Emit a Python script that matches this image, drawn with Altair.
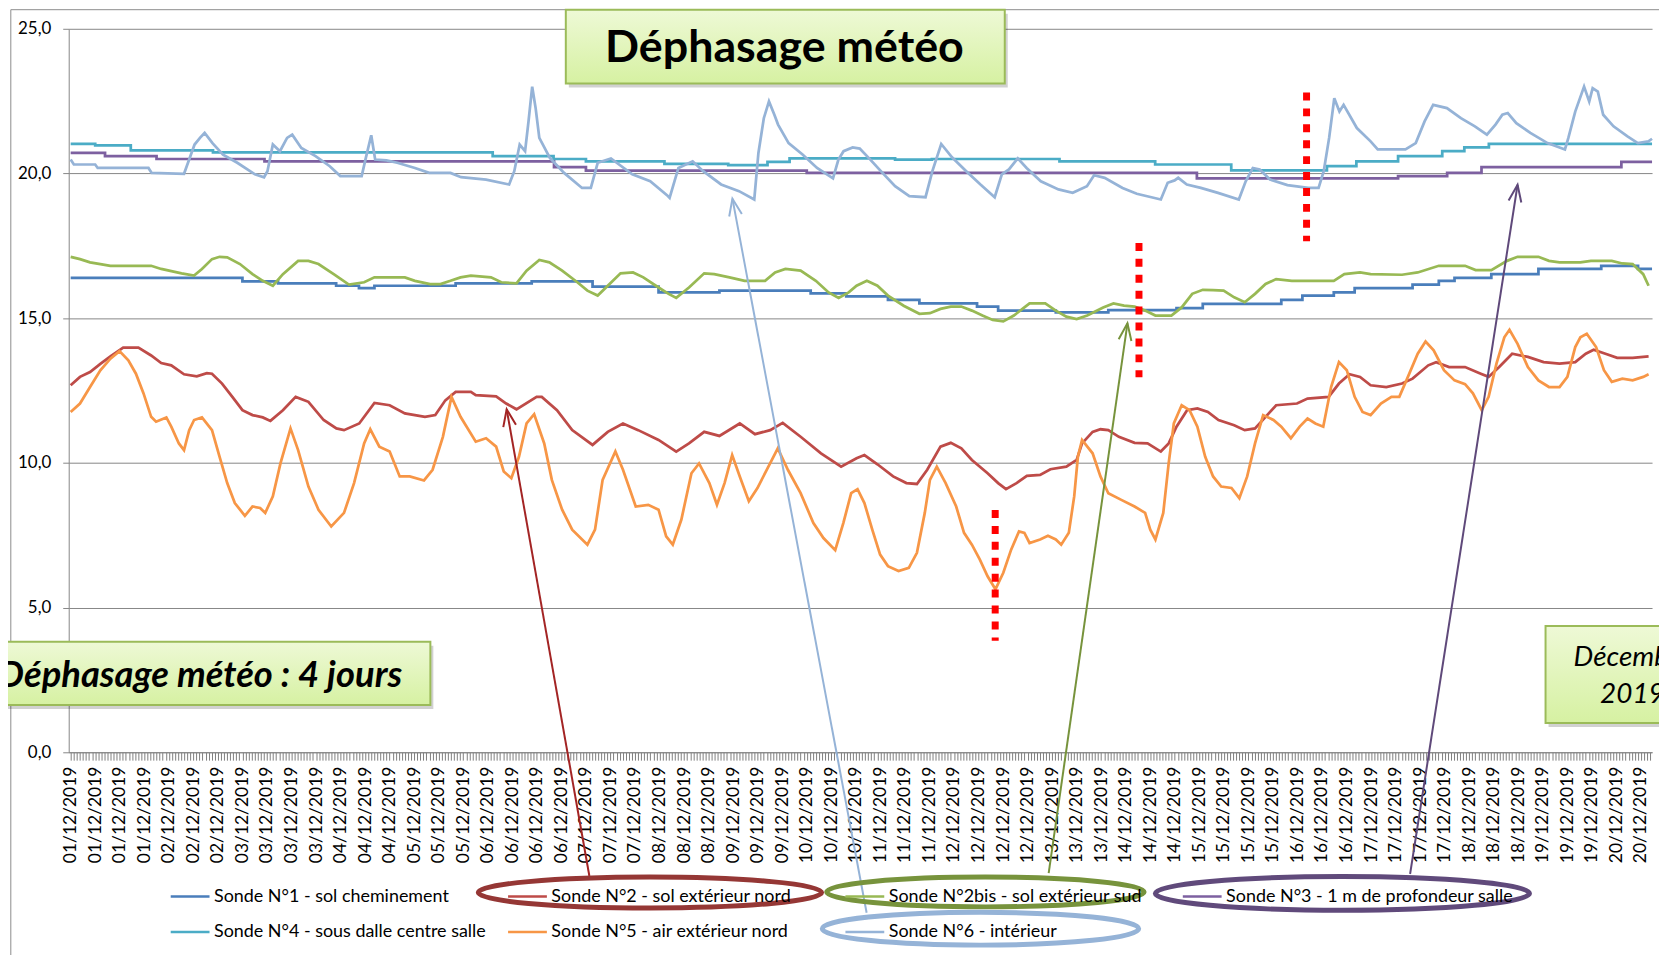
import json
import altair as alt
import pandas as pd

# ---------------- series names / colours ----------------
SERIES = [
    "Sonde N°1 - sol cheminement",
    "Sonde N°2 - sol extérieur nord",
    "Sonde N°2bis - sol extérieur sud",
    "Sonde N°3 - 1 m de profondeur salle",
    "Sonde N°4 - sous dalle centre salle",
    "Sonde N°5 - air extérieur nord",
    "Sonde N°6 - intérieur",
]
COLORS = ["#4A7EBB", "#BE4B48", "#98B954", "#7D60A0", "#4BACC6", "#F79646", "#95B3D7"]

# ---------------- category tick labels (one every category index) ----------------
DATE_LABELS = [
    "01/12/2019", "01/12/2019", "01/12/2019", "01/12/2019",
    "02/12/2019", "02/12/2019", "02/12/2019",
    "03/12/2019", "03/12/2019", "03/12/2019", "03/12/2019",
    "04/12/2019", "04/12/2019", "04/12/2019",
    "05/12/2019", "05/12/2019", "05/12/2019",
    "06/12/2019", "06/12/2019", "06/12/2019", "06/12/2019",
    "07/12/2019", "07/12/2019", "07/12/2019",
    "08/12/2019", "08/12/2019", "08/12/2019",
    "09/12/2019", "09/12/2019", "09/12/2019",
    "10/12/2019", "10/12/2019", "10/12/2019",
    "11/12/2019", "11/12/2019", "11/12/2019",
    "12/12/2019", "12/12/2019", "12/12/2019", "12/12/2019",
    "13/12/2019", "13/12/2019", "13/12/2019",
    "14/12/2019", "14/12/2019", "14/12/2019",
    "15/12/2019", "15/12/2019", "15/12/2019", "15/12/2019",
    "16/12/2019", "16/12/2019", "16/12/2019",
    "17/12/2019", "17/12/2019", "17/12/2019", "17/12/2019",
    "18/12/2019", "18/12/2019", "18/12/2019",
    "19/12/2019", "19/12/2019", "19/12/2019",
    "20/12/2019", "20/12/2019",
]

# ---------------- series values (x = position in label units, y = °C) ----------------
N1_X = [0, 7.0, 8.45, 10.82, 11.75, 12.38, 15.69, 18.79, 21.27, 23.96, 26.44, 30.16, 31.61, 33.31,
        34.59, 36.94, 37.8, 40.15, 42.29, 45.07, 46.14, 49.34, 50.2, 51.48, 52.33, 54.69, 55.76,
        56.4, 57.9, 59.82, 62.38, 63.88, 64.45]
N1_Y = [16.39, 16.27, 16.2, 16.12, 16.04, 16.12, 16.2, 16.27, 16.09, 15.89, 15.95, 15.86, 15.75,
        15.63, 15.51, 15.4, 15.26, 15.2, 15.28, 15.35, 15.49, 15.63, 15.78, 15.89, 16.04, 16.16,
        16.29, 16.39, 16.52, 16.7, 16.81, 16.7, 16.7]

N3_X = [0, 1.4, 3.5, 7.9, 19.7, 21.0, 30.0, 45.9, 54.1, 56.1, 57.5, 63.2, 64.45]
N3_Y = [20.71, 20.6, 20.5, 20.42, 20.22, 20.1, 20.02, 19.83, 19.91, 20.02, 20.22, 20.4, 20.4]

N4_X = [0, 1.0, 2.45, 5.8, 17.2, 19.68, 21.0, 24.2, 26.8, 28.4, 29.3, 33.6, 35.1, 40.3, 44.2,
        47.3, 51.2, 52.4, 54.1, 55.9, 56.8, 57.8, 64.45]
N4_Y = [21.02, 20.97, 20.8, 20.73, 20.6, 20.5, 20.42, 20.33, 20.29, 20.4, 20.52, 20.48, 20.5,
        20.42, 20.31, 20.11, 20.25, 20.42, 20.6, 20.77, 20.9, 21.02, 21.02]

N2_X = [0, 0.38, 0.79, 1.21, 1.62, 2.14, 2.76, 3.28, 3.69, 4.1, 4.62, 5.14, 5.55, 5.76, 6.17, 6.59,
        7.0, 7.41, 7.83, 8.14, 8.65, 9.17, 9.69, 10.31, 10.83, 11.14, 11.76, 12.38, 13.0, 13.62,
        14.44, 14.86, 15.27, 15.69, 16.31, 16.51, 17.34, 17.75, 18.17, 18.99, 19.2, 19.82, 20.44,
        21.27, 21.89, 22.51, 23.13, 23.96, 24.68, 25.2, 25.82, 26.44, 27.27, 27.89, 28.51, 29.02,
        29.75, 30.58, 31.4, 32.03, 32.35, 32.88, 33.52, 34.06, 34.49, 34.91, 35.45, 35.87, 36.3,
        36.73, 37.37, 37.8, 38.12, 38.55, 38.97, 39.51, 39.93, 40.58, 41.0, 41.22, 41.65, 41.97,
        42.29, 42.72, 43.36, 43.89, 44.43, 44.75, 45.07, 45.5, 45.92, 46.35, 46.78, 47.42, 47.85,
        48.27, 48.7, 49.13, 49.98, 50.41, 51.27, 51.69, 52.12, 52.55, 52.98, 53.62, 54.26, 54.69,
        55.33, 55.65, 56.18, 56.83, 57.47, 57.79, 58.22, 58.75, 59.39, 60.03, 60.68, 61.32, 61.75,
        62.07, 62.61, 63.03, 63.66, 64.31]
N2_Y = [12.68, 12.97, 13.14, 13.42, 13.68, 13.98, 13.98, 13.71, 13.45, 13.37, 13.06, 12.99, 13.1,
        13.08, 12.74, 12.28, 11.82, 11.65, 11.57, 11.45, 11.82, 12.28, 12.11, 11.48, 11.19, 11.13,
        11.36, 12.07, 11.99, 11.71, 11.59, 11.65, 12.16, 12.45, 12.45, 12.34, 12.3, 12.05, 11.85,
        12.28, 12.28, 11.82, 11.13, 10.62, 11.07, 11.36, 11.13, 10.79, 10.39, 10.67, 11.07, 10.93,
        11.36, 10.99, 11.13, 11.38, 10.9, 10.33, 9.87, 10.16, 10.27, 9.95, 9.53, 9.3, 9.27, 9.76,
        10.56, 10.69, 10.5, 10.1, 9.64, 9.3, 9.09, 9.3, 9.55, 9.58, 9.78, 9.87, 10.1, 10.67, 11.07,
        11.16, 11.13, 10.9, 10.69, 10.67, 10.39, 10.67, 11.25, 11.82, 11.88, 11.76, 11.48, 11.3,
        11.13, 11.19, 11.59, 11.99, 12.05, 12.22, 12.28, 12.74, 13.06, 12.97, 12.68, 12.62, 12.74,
        12.91, 13.37, 13.48, 13.31, 13.31, 13.08, 12.97, 13.31, 13.77, 13.66, 13.48, 13.43, 13.48,
        13.77, 13.91, 13.75, 13.63, 13.63, 13.68]

N2B_X = [0, 0.38, 0.79, 1.21, 1.62, 3.28, 3.69, 4.52, 5.03, 5.35, 5.76, 6.07, 6.38, 6.9, 7.41, 7.83,
         8.24, 8.65, 9.27, 9.69, 10.1, 10.72, 11.34, 11.96, 12.38, 13.62, 14.03, 14.65, 15.07,
         15.48, 15.89, 16.31, 17.13, 17.55, 18.17, 18.58, 19.1, 19.51, 20.03, 20.65, 21.06, 21.48,
         21.89, 22.41, 22.92, 23.34, 23.96, 24.37, 24.68, 25.2, 25.82, 26.23, 26.85, 27.47, 28.3,
         28.71, 29.13, 29.75, 30.37, 30.89, 31.3, 31.71, 32.03, 32.45, 32.88, 33.31, 33.95, 34.59,
         35.02, 35.45, 35.87, 36.3, 36.73, 37.16, 37.58, 38.01, 38.44, 38.87, 39.08, 39.72, 40.15,
         40.58, 41.0, 41.43, 42.08, 42.5, 42.93, 43.36, 43.79, 44.21, 44.86, 45.28, 45.71, 46.14,
         46.56, 46.99, 47.42, 47.85, 48.27, 48.7, 49.13, 49.77, 51.48, 51.91, 52.55, 52.98, 54.26,
         54.9, 55.76, 56.83, 57.26, 57.9, 58.54, 58.97, 59.82, 60.25, 60.68, 61.53, 61.96, 62.81,
         63.24, 63.66, 64.09, 64.31]
N2B_Y = [17.12, 17.04, 16.93, 16.87, 16.81, 16.81, 16.7, 16.55, 16.47, 16.7, 17.04, 17.12, 17.1,
         16.87, 16.52, 16.29, 16.12, 16.52, 16.98, 16.98, 16.87, 16.52, 16.16, 16.24, 16.41, 16.41,
         16.29, 16.18, 16.18, 16.29, 16.41, 16.47, 16.41, 16.24, 16.2, 16.64, 17.01, 16.93, 16.64,
         16.24, 15.95, 15.78, 16.12, 16.55, 16.58, 16.41, 16.06, 15.84, 15.7, 16.06, 16.55, 16.52,
         16.41, 16.29, 16.29, 16.58, 16.7, 16.64, 16.29, 15.89, 15.7, 15.89, 16.12, 16.29, 16.12,
         15.78, 15.43, 15.15, 15.17, 15.32, 15.4, 15.4, 15.26, 15.09, 14.94, 14.89, 15.09, 15.37,
         15.51, 15.51, 15.26, 15.05, 14.97, 15.09, 15.37, 15.51, 15.43, 15.4, 15.26, 15.09, 15.09,
         15.37, 15.84, 15.98, 15.97, 15.95, 15.72, 15.55, 15.84, 16.18, 16.35, 16.29, 16.29, 16.52,
         16.58, 16.52, 16.5, 16.58, 16.81, 16.81, 16.66, 16.66, 16.98, 17.12, 17.12, 16.98, 16.93,
         16.93, 16.98, 16.98, 16.89, 16.87, 16.52, 16.12]

N5_X = [0, 0.38, 0.79, 1.21, 1.62, 1.99, 2.35, 2.66, 2.97, 3.28, 3.48, 3.9, 4.1, 4.41, 4.62, 4.83,
        5.03, 5.35, 5.76, 6.07, 6.38, 6.69, 7.1, 7.41, 7.72, 7.93, 8.24, 8.55, 8.96, 9.27, 9.69,
        10.1, 10.62, 11.14, 11.55, 11.96, 12.21, 12.58, 13.0, 13.41, 13.82, 14.4, 14.75, 15.17,
        15.52, 15.89, 16.51, 16.93, 17.34, 17.65, 17.96, 18.27, 18.58, 18.89, 19.3, 19.61, 20.03,
        20.44, 21.06, 21.37, 21.68, 22.2, 22.51, 23.03, 23.54, 23.96, 24.27, 24.54, 24.89, 25.3,
        25.61, 26.03, 26.34, 26.65, 26.96, 27.27, 27.64, 27.99, 28.4, 28.82, 29.23, 29.75, 30.27,
        30.68, 31.16, 31.49, 31.81, 32.07, 32.35, 32.67, 32.99, 33.31, 33.74, 34.16, 34.49, 34.81,
        35.02, 35.3, 35.66, 36.09, 36.41, 36.73, 37.05, 37.37, 37.69, 38.01, 38.33, 38.65, 38.87,
        39.08, 39.51, 39.83, 40.15, 40.37, 40.68, 40.9, 41.05, 41.22, 41.65, 41.97, 42.29, 42.82,
        43.36, 43.79, 44.0, 44.21, 44.53, 44.75, 44.96, 45.28, 45.6, 45.92, 46.24, 46.56, 46.89,
        47.31, 47.63, 47.95, 48.27, 48.6, 49.02, 49.34, 49.73, 50.09, 50.41, 50.73, 51.05, 51.37,
        51.69, 52.01, 52.33, 52.65, 52.98, 53.4, 53.83, 54.15, 54.47, 54.9, 55.22, 55.55, 55.97,
        56.4, 56.83, 57.15, 57.51, 57.79, 58.11, 58.43, 58.64, 58.97, 59.39, 59.82, 60.25, 60.68,
        61.0, 61.32, 61.53, 61.79, 62.17, 62.49, 62.81, 63.24, 63.66, 64.09, 64.31]
N5_Y = [11.76, 12.05, 12.62, 13.2, 13.6, 13.86, 13.54, 13.08, 12.4, 11.59, 11.42, 11.57, 11.25,
        10.67, 10.44, 11.13, 11.48, 11.57, 11.13, 10.21, 9.3, 8.61, 8.17, 8.49, 8.44, 8.27, 8.84,
        9.98, 11.19, 10.44, 9.18, 8.38, 7.8, 8.27, 9.3, 10.67, 11.16, 10.56, 10.39, 9.53, 9.53,
        9.39, 9.76, 10.9, 12.28, 11.59, 10.73, 10.85, 10.56, 9.7, 9.47, 10.21, 11.36, 11.68, 10.67,
        9.41, 8.38, 7.69, 7.17, 7.69, 9.41, 10.39, 9.76, 8.49, 8.55, 8.38, 7.46, 7.17, 8.04, 9.64,
        9.98, 9.3, 8.55, 9.3, 10.27, 9.53, 8.67, 9.13, 9.81, 10.5, 9.76, 8.95, 7.92, 7.4, 6.98,
        7.92, 8.95, 9.09, 8.61, 7.69, 6.83, 6.43, 6.26, 6.37, 6.89, 8.27, 9.41, 9.87, 9.3, 8.49,
        7.58, 7.17, 6.66, 6.08, 5.63, 6.2, 7.0, 7.63, 7.58, 7.23, 7.35, 7.48, 7.35, 7.17, 7.58,
        8.84, 10.21, 10.79, 10.33, 9.53, 8.95, 8.72, 8.49, 8.27, 7.69, 7.35, 8.27, 9.98, 11.36,
        11.99, 11.82, 11.25, 10.21, 9.53, 9.18, 9.13, 8.78, 9.53, 10.67, 11.65, 11.48, 11.25,
        10.85, 11.25, 11.53, 11.36, 11.25, 12.62, 13.48, 13.2, 12.28, 11.76, 11.65, 12.05, 12.28,
        12.28, 12.91, 13.77, 14.19, 13.89, 13.2, 12.85, 12.72, 12.4, 11.82, 12.28, 13.43, 14.34,
        14.6, 14.11, 13.31, 12.85, 12.62, 12.62, 12.97, 14.0, 14.34, 14.46, 14.0, 13.2, 12.8,
        12.91, 12.85, 12.97, 13.06]

N6_X = [0.0, 0.13, 1.0, 1.1, 3.17, 3.3, 4.62, 5.05, 5.27, 5.46, 5.78, 6.21, 6.79, 7.51, 7.88, 8.02,
        8.24, 8.53, 8.82, 9.03, 9.4, 9.98, 10.56, 10.99, 11.86, 12.03, 12.25, 12.41, 12.87, 13.31,
        14.03, 14.61, 15.48, 15.91, 16.93, 17.87, 18.08, 18.3, 18.52, 18.66, 18.81, 18.95, 19.1,
        19.53, 20.11, 20.84, 21.2, 21.48, 22.02, 22.89, 23.62, 24.34, 24.41, 24.77, 25.35, 25.78,
        26.51, 27.24, 27.86, 28.03, 28.25, 28.46, 28.68, 28.83, 29.26, 29.84, 30.42, 31.07, 31.29,
        31.5, 31.87, 32.16, 32.59, 33.02, 33.6, 34.18, 34.84, 35.12, 35.48, 35.92, 36.5, 37.08,
        37.66, 37.95, 38.24, 38.6, 38.96, 39.54, 40.26, 40.84, 41.42, 41.71, 42.14, 42.87, 43.45,
        44.43, 44.71, 44.99, 45.14, 45.49, 46.06, 46.76, 47.61, 47.89, 48.18, 48.46, 48.88, 49.59,
        50.44, 50.86, 51.07, 51.29, 51.5, 51.71, 51.88, 52.42, 52.98, 53.27, 54.4, 54.82, 55.18,
        55.53, 56.09, 56.66, 57.23, 57.72, 58.07, 58.35, 58.57, 58.92, 59.49, 60.19, 60.9, 61.04,
        61.32, 61.68, 61.89, 62.03, 62.24, 62.46, 62.88, 63.45, 63.87, 64.3, 64.45]
N6_Y = [20.48, 20.31, 20.31, 20.19, 20.19, 20.02, 19.99, 21.0, 21.23, 21.4, 21.05, 20.65, 20.37,
        19.97, 19.87, 20.08, 21.0, 20.77, 21.23, 21.34, 20.88, 20.6, 20.25, 19.91, 19.91, 20.54,
        21.32, 20.48, 20.45, 20.37, 20.19, 20.02, 20.02, 19.87, 19.79, 19.62, 20.08, 21.0, 20.77,
        21.8, 23.0, 22.26, 21.23, 20.54, 20.02, 19.5, 19.5, 20.37, 20.52, 19.97, 19.73, 19.22,
        19.16, 20.19, 20.42, 20.08, 19.62, 19.39, 19.1, 20.71, 21.91, 22.49, 22.03, 21.69, 21.05,
        20.65, 20.19, 19.83, 20.48, 20.77, 20.9, 20.86, 20.48, 20.08, 19.56, 19.22, 19.18, 20.08,
        21.02, 20.56, 20.08, 19.62, 19.18, 19.97, 20.14, 20.52, 20.19, 19.73, 19.45, 19.33, 19.56,
        19.94, 19.85, 19.5, 19.3, 19.1, 19.68, 19.76, 19.85, 19.62, 19.5, 19.33, 19.1, 19.73,
        20.19, 20.14, 19.79, 19.6, 19.5, 19.5, 20.08, 21.23, 22.6, 22.14, 22.37, 21.57, 21.11,
        20.83, 20.83, 21.05, 21.8, 22.37, 22.26, 21.91, 21.63, 21.34, 21.69, 22.03, 22.09, 21.74,
        21.4, 21.05, 20.83, 21.23, 22.14, 23.0, 22.49, 22.95, 22.83, 22.03, 21.63, 21.28, 21.05,
        21.11, 21.2]

# ---------------- annotations (in chart units) ----------------
DOT_X = [37.68, 43.54, 50.37]
DOT_TOP = [8.37, 17.6, 22.8]
DOT_BOTTOM = [3.85, 12.96, 17.66]

ARROW_TIP_X = [17.77, 26.97, 43.07, 58.97]
ARROW_TIP_Y = [11.85, 19.13, 14.82, 19.61]
ARROW_TAIL_X = [21.14, 32.44, 39.86, 54.59]
ARROW_TAIL_Y = [-4.28, -5.55, -4.18, -4.21]
ARROW_COLORS = ["#A32424", "#95B3D7", "#77933C", "#5F497A"]
ARROW_ANGLES = [350, 349.4, 8.2, 8.9]

ELL_X = [23.61, 37.28, 51.83, 37.08]
ELL_Y = [-4.85, -4.83, -4.88, -6.1]
ELL_W = [345, 319, 376, 318]
ELL_H = [31, 30, 34, 33]
ELL_COLORS = ["#953735", "#77933C", "#604A7B", "#95B3D7"]

BOX_X1 = [20.18, -3.08, 60.11]
BOX_X2 = [38.07, 14.66, 67.18]
BOX_Y1 = [25.66, 3.82, 4.36]
BOX_Y2 = [23.11, 1.63, 1.01]

TITLE_TEXT = "Déphasage météo"
PHASE_TEXT = "Déphasage météo : 4 jours"
MONTH_LINES = ["Décembre", "2019"]


def long_frame(parts):
    rows = []
    for name, xs, ys in parts:
        for xv, yv in zip(xs, ys):
            rows.append({"series": name, "x": xv, "y": yv})
    return pd.DataFrame(rows)


step_df = long_frame([(SERIES[0], N1_X, N1_Y), (SERIES[3], N3_X, N3_Y), (SERIES[4], N4_X, N4_Y)])
line_df = long_frame([(SERIES[1], N2_X, N2_Y), (SERIES[2], N2B_X, N2B_Y),
                      (SERIES[5], N5_X, N5_Y), (SERIES[6], N6_X, N6_Y)])

XS = alt.Scale(domain=[-0.08, 64.45], nice=False, zero=False)
YS = alt.Scale(domain=[0, 25], nice=False, zero=False)
GRID = "#868686"
FONT = "Lato"

tick_values = [i / 8 for i in range(0, 516)]
label_expr = "datum.value % 1 === 0 ? " + json.dumps(DATE_LABELS) + "[datum.value] : ''"

X_AXIS = alt.Axis(values=tick_values, labelExpr=label_expr, labelAngle=270, labelOverlap=False,
                  labelFlush=False, labelFont=FONT, labelFontSize=17.5, labelColor="#000000",
                  labelPadding=6, tickSize=8, tickColor="#7F7F7F", tickWidth=1,
                  domainColor=GRID, grid=False, title=None)
Y_AXIS = alt.Axis(values=[0, 5, 10, 15, 20, 25],
                  labelExpr="replace(format(datum.value, '.1f'), '.', ',')",
                  labelFont=FONT, labelFontSize=17, labelColor="#000000", labelPadding=12,
                  tickSize=6, tickColor=GRID, domainColor=GRID, grid=True, gridColor=GRID,
                  title=None)


def X(field):
    return alt.X(field, type="quantitative", scale=XS, axis=X_AXIS)


def Y(field):
    return alt.Y(field, type="quantitative", scale=YS, axis=Y_AXIS)


legend = alt.Legend(orient="none", legendX=101, legendY=851, columns=4, direction="horizontal",
                    symbolType="stroke", symbolSize=1521, symbolStrokeWidth=2.5,
                    labelFont=FONT, labelFontSize=18, labelColor="#000000", labelLimit=600,
                    labelOffset=3, gridAlign="all", columnPadding=1, rowPadding=5.5, title=None)

color_scale = alt.Scale(domain=SERIES, range=COLORS)

# frame of the chart area
frame_df = pd.DataFrame({"x": [-2.44], "x2": [70.0], "y": [25.66], "y2": [-12.0]})
frame = alt.Chart(frame_df).mark_rect(fillOpacity=0, stroke="#8C8C8C", strokeWidth=1).encode(
    x=X("x:Q"), x2="x2:Q", y=Y("y:Q"), y2="y2:Q")

steps = alt.Chart(step_df).mark_line(interpolate="step-after", strokeWidth=2.75).encode(
    x=X("x:Q"), y=Y("y:Q"),
    color=alt.Color("series:N", scale=color_scale, legend=legend))

lines = alt.Chart(line_df).mark_line(strokeWidth=2.75).encode(
    x=X("x:Q"), y=Y("y:Q"),
    color=alt.Color("series:N", scale=color_scale, legend=legend))

dots_df = pd.DataFrame({"x": DOT_X, "y": DOT_TOP, "y2": DOT_BOTTOM})
dots = alt.Chart(dots_df).mark_rule(color="#FF0000", strokeWidth=7, strokeDash=[8, 8]).encode(
    x=X("x:Q"), y=Y("y:Q"), y2="y2:Q")

arrow_df = pd.DataFrame({"x": ARROW_TAIL_X, "y": ARROW_TAIL_Y, "x2": ARROW_TIP_X, "y2": ARROW_TIP_Y,
                         "color": ARROW_COLORS, "angle": ARROW_ANGLES})
arrows = alt.Chart(arrow_df).mark_rule(strokeWidth=2).encode(
    x=X("x:Q"), y=Y("y:Q"), x2="x2:Q", y2="y2:Q",
    stroke=alt.Stroke("color:N", scale=None, legend=None))

head_df = pd.DataFrame({"x": ARROW_TIP_X, "y": ARROW_TIP_Y, "color": ARROW_COLORS, "angle": ARROW_ANGLES})
heads = alt.Chart(head_df).mark_point(filled=False, opacity=1, strokeWidth=2,
                                      shape="M -0.38 1 L 0 0 L 0.38 1", size=1156).encode(
    x=X("x:Q"), y=Y("y:Q"),
    stroke=alt.Stroke("color:N", scale=None, legend=None),
    angle=alt.Angle("angle:Q", scale=None))


def ellipse_path(ratio):
    k = 0.5523
    r = ratio
    return (f"M -1 0 C -1 {-k * r:.4f} {-k:.4f} {-r:.4f} 0 {-r:.4f} "
            f"C {k:.4f} {-r:.4f} 1 {-k * r:.4f} 1 0 "
            f"C 1 {k * r:.4f} {k:.4f} {r:.4f} 0 {r:.4f} "
            f"C {-k:.4f} {r:.4f} -1 {k * r:.4f} -1 0 Z")


ell_df = pd.DataFrame({
    "x": ELL_X, "y": ELL_Y, "color": ELL_COLORS,
    "path": [ellipse_path(h / w) for w, h in zip(ELL_W, ELL_H)],
    "size": [w * w for w in ELL_W],
})
ellipses = alt.Chart(ell_df).mark_point(filled=False, opacity=1, strokeWidth=5).encode(
    x=X("x:Q"), y=Y("y:Q"),
    stroke=alt.Stroke("color:N", scale=None, legend=None),
    shape=alt.Shape("path:N", scale=None, legend=None),
    size=alt.Size("size:Q", scale=None, legend=None))

box_df = pd.DataFrame({"x": BOX_X1, "x2": BOX_X2, "y": BOX_Y1, "y2": BOX_Y2})
shadows = alt.Chart(box_df).mark_rect(fill="#000000", opacity=0.18, xOffset=3, x2Offset=3,
                                      yOffset=4, y2Offset=4).encode(
    x=X("x:Q"), x2="x2:Q", y=Y("y:Q"), y2="y2:Q")
gradient = alt.LinearGradient(gradient="linear", x1=0, x2=0, y1=0, y2=1,
                              stops=[alt.GradientStop(color="#EEF9D6", offset=0),
                                     alt.GradientStop(color="#D6F1A2", offset=1)])
boxes = alt.Chart(box_df).mark_rect(fill=gradient, stroke="#9BBB59", strokeWidth=2).encode(
    x=X("x:Q"), x2="x2:Q", y=Y("y:Q"), y2="y2:Q")

title_df = pd.DataFrame({"x": [29.09], "y": [23.85], "t": [TITLE_TEXT]})
title_txt = alt.Chart(title_df).mark_text(font=FONT, fontSize=45, fontWeight="bold", color="#000000",
                                          align="center", baseline="alphabetic").encode(
    x=X("x:Q"), y=Y("y:Q"), text="t:N")

phase_df = pd.DataFrame({"x": [13.51], "y": [2.26], "t": [PHASE_TEXT]})
phase_txt = alt.Chart(phase_df).mark_text(font=FONT, fontSize=36.5, fontWeight="bold", fontStyle="italic",
                                          color="#000000", align="right", baseline="alphabetic").encode(
    x=X("x:Q"), y=Y("y:Q"), text="t:N")

month_df = pd.DataFrame({"x": [63.65, 63.65], "y": [2.99, 1.70], "t": MONTH_LINES})
month_txt = alt.Chart(month_df).mark_text(font=FONT, fontSize=28, fontStyle="italic", color="#000000",
                                          align="center", baseline="alphabetic").encode(
    x=X("x:Q"), y=Y("y:Q"), text="t:N")

chart = alt.layer(
    frame, steps, lines, dots, arrows, heads, ellipses, shadows, boxes, title_txt, phase_txt, month_txt
).properties(
    width=1591, height=726.9,
    autosize=alt.AutoSizeParams(type="none"),
    padding={"left": 61, "top": 18.6, "right": 7, "bottom": 201.5},
).configure(font=FONT, background="#FFFFFF").configure_view(strokeWidth=0)

chart.save("out.html", embed_options={"renderer": "svg", "actions": False})
